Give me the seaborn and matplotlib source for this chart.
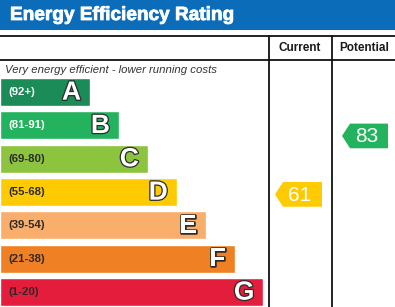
import numpy as np
import pandas as pd
import matplotlib
matplotlib.use("Agg")
import matplotlib.pyplot as plt
import matplotlib.patheffects as pe
from matplotlib.patches import Polygon, Rectangle
import seaborn as sns

# Rating bands, top (best) to bottom (worst)
bands = ["A", "B", "C", "D", "E", "F", "G"]
band_ranges = ["(92+)", "(81-91)", "(69-80)", "(55-68)", "(39-54)", "(21-38)", "(1-20)"]
band_low = [92, 81, 69, 55, 39, 21, 1]
band_high = [101, 92, 81, 69, 55, 39, 21]
band_colors = ["#1b8b57", "#23b35e", "#8cc43f", "#fecb00", "#f9ae6b", "#ef8124", "#e41d3c"]
range_text_colors = ["white", "white", "#2a2a2a", "#2a2a2a", "#2a2a2a", "#2a2a2a", "#2a2a2a"]

current_score = 61
potential_score = 83

title = "Energy Efficiency Rating"
column_headers = ["Current", "Potential"]
top_note = "Very energy efficient - lower running costs"

sns.set_style("white")
plt.rcParams["font.family"] = ["Liberation Sans", "DejaVu Sans"]

W, H = 395, 307
fig = plt.figure(figsize=(W / 100, H / 100), dpi=100)

# Background frame in pixel coordinates
bg = fig.add_axes([0, 0, 1, 1])
bg.set_xlim(0, W)
bg.set_ylim(H, 0)
bg.axis("off")

bg.add_patch(Rectangle((0, 0), W, 30, color="#0b6cb9", lw=0))
bg.text(10, 15.5, title, color="white", fontsize=13.7, fontweight="bold",
        va="center", ha="left",
        path_effects=[pe.withStroke(linewidth=0.6, foreground="white")])

col_x = [269, 332]
bg.plot([0, W], [35.5, 35.5], color="#111111", lw=1.3)
bg.plot([0, W], [60, 60], color="#111111", lw=1.3)
for x in col_x:
    bg.plot([x, x], [35.5, H], color="#111111", lw=1.3)
bg.text((col_x[0] + col_x[1]) / 2 - 1, 48, column_headers[0], ha="center", va="center",
        fontsize=8.5, fontweight="bold", color="#1a1a1a")
bg.text((col_x[1] + W) / 2 + 0.5, 48, column_headers[1], ha="center", va="center",
        fontsize=8.5, fontweight="bold", color="#1a1a1a")
bg.text(5, 70, top_note, ha="left", va="center", fontsize=8.2, style="italic",
        color="#333333")

# Band bars on a categorical axis
pitch = 200 / 6
top_px = 78 + 14 - pitch / 2
bottom_px = top_px + 7 * pitch
ax = fig.add_axes([0, 1 - bottom_px / H, 1, (bottom_px - top_px) / H])
ax.patch.set_alpha(0)

bar_len = [90 + 28.9 * i for i in range(len(bands))]
df = pd.DataFrame({"band": bands, "length": bar_len})
sns.barplot(data=df, x="length", y="band", hue="band", palette=band_colors,
            orient="h", width=0.84, saturation=1, legend=False, ax=ax)
ax.set_xlim(0, W)
ax.set_ylim(6.5, -0.5)
ax.axis("off")

outline = [pe.withStroke(linewidth=1.8, foreground="#2b2b2b")]
for i, (b, rng) in enumerate(zip(bands, band_ranges)):
    ax.text(8, i, rng, ha="left", va="center", fontsize=8.2, fontweight="bold",
            color=range_text_colors[i])
    ax.text(bar_len[i] - 9, i + 0.02, b, ha="right", va="center", fontsize=19,
            fontweight="bold", color="white", path_effects=outline)


def score_position(score):
    for i in range(len(bands)):
        if band_low[i] <= score < band_high[i]:
            frac = (score - band_low[i]) / (band_high[i] - band_low[i])
            return i, i + 0.5 - frac
    return len(bands) - 1, len(bands) - 0.5


def draw_arrow(score, x_tip, x_right, text_x):
    idx, y = score_position(score)
    half = 0.37
    tip = 8
    pts = [(x_tip, y), (x_tip + tip, y - half), (x_right, y - half),
           (x_right, y + half), (x_tip + tip, y + half)]
    ax.add_patch(Polygon(pts, closed=True, color=band_colors[idx], lw=0))
    ax.text(text_x, y + 0.02, str(score), ha="center", va="center", fontsize=15,
            color="white")


draw_arrow(current_score, 275, 322, 300)
draw_arrow(potential_score, 342, 388, 367)

fig.savefig("out.png", dpi=100)
